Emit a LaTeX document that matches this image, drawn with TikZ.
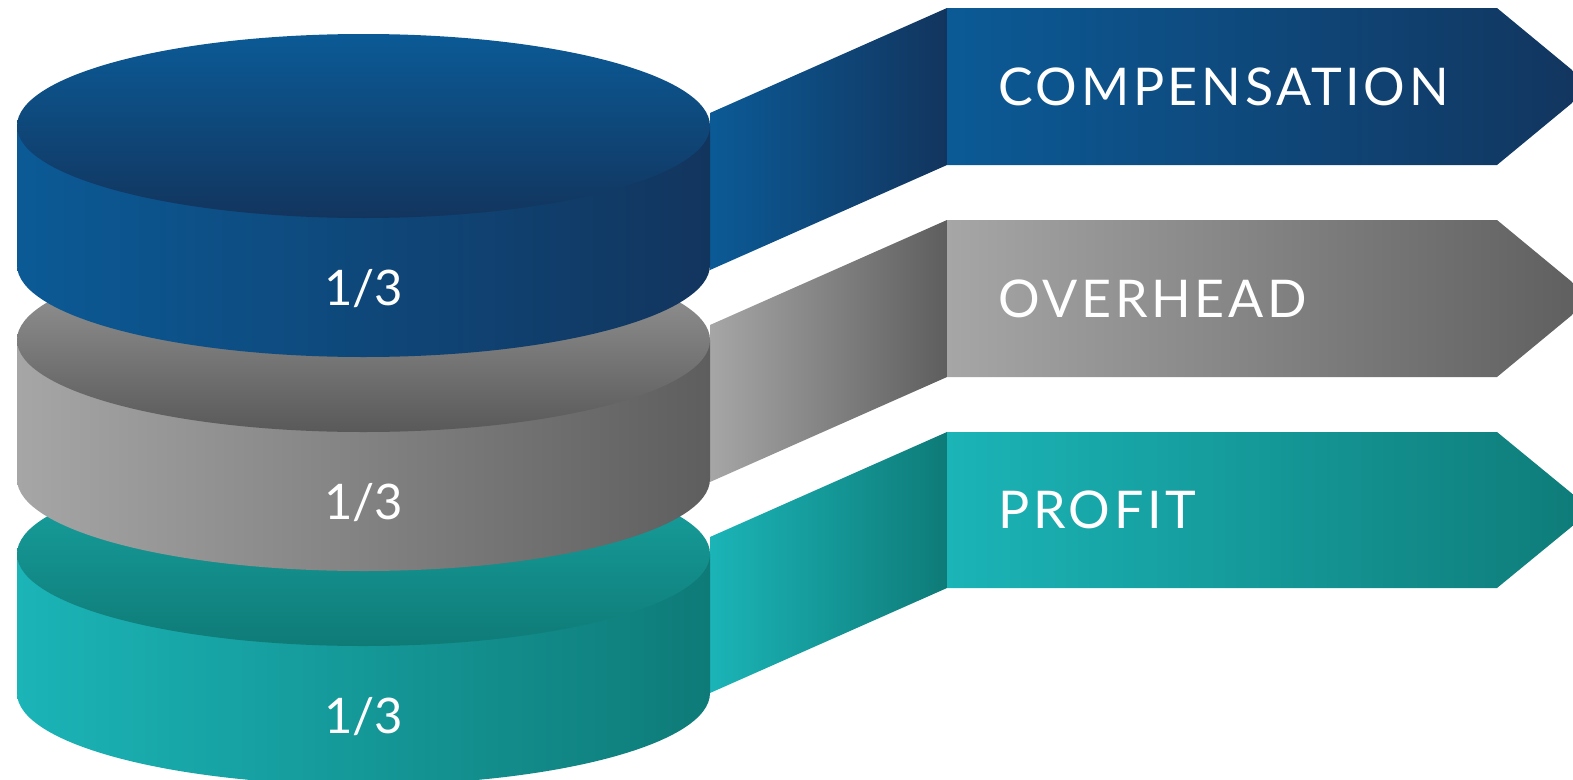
\documentclass[tikz,border=0pt]{standalone}
\usepackage{fontspec}
\setmainfont{Lato}
\newfontfamily\tagfont[LetterSpace=7]{Lato}
\usepackage{xcolor}
\usepackage{tikz}
\definecolor{navylight}{HTML}{0B5A96}
\definecolor{navydark}{HTML}{12355E}
\definecolor{greylight}{HTML}{A6A6A6}
\definecolor{greydark}{HTML}{5E5E5E}
\definecolor{greylid}{HTML}{A0A0A0}
\definecolor{greylidlow}{HTML}{595959}
\definecolor{teallight}{HTML}{1BB4B7}
\definecolor{tealdark}{HTML}{0E7B78}
\definecolor{teallid}{HTML}{18A6A4}
\definecolor{teallidlow}{HTML}{0F7B77}
\tikzset{
  sidefill/.style 2 args={left color=#1, right color=#2},
  lidfill/.style 2 args={top color=#1, bottom color=#2},
  tag/.style={font=\tagfont\fontsize{52}{60}\selectfont, text=white, inner sep=0pt, anchor=base west},
  share/.style={font=\fontsize{49}{56}\selectfont, text=white, inner sep=0pt, anchor=base},
}

\begin{document}
\begin{tikzpicture}[x=1pt, y=-1pt]
\useasboundingbox (0,0) rectangle (1573,779);
\clip (0,0) rectangle (1573,779);

% bottom layer: profit
\path[sidefill={teallight}{tealdark}] (710,537) -- (947,432) -- (947,588) -- (710,693) -- cycle;
\path[sidefill={teallight}{tealdark}] (947,432) -- (1497,432) -- (1592,510) -- (1497,588) -- (947,588) -- cycle;
\path[sidefill={teallight}{tealdark}] (17,554) -- (17,693)
  arc[start angle=180, end angle=360, x radius=346.5pt, y radius=92pt] -- (710,554) -- cycle;
\path[lidfill={teallid}{teallidlow}] (363.5,554) ellipse[x radius=346.5pt, y radius=92pt];
\node[tag] (profit) at (998,528.5) {PROFIT};
\node[share] (sharec) at (363.5,733) {1/3};

% middle layer: overhead
\path[sidefill={greylight}{greydark}] (710,325) -- (947,220) -- (947,377) -- (710,482) -- cycle;
\path[sidefill={greylight}{greydark}] (947,220) -- (1497,220) -- (1592,298.5) -- (1497,377) -- (947,377) -- cycle;
\path[sidefill={greylight}{greydark}] (17,340) -- (17,479)
  arc[start angle=180, end angle=360, x radius=346.5pt, y radius=92pt] -- (710,340) -- cycle;
\path[lidfill={greylid}{greylidlow}] (363.5,340) ellipse[x radius=346.5pt, y radius=92pt];
\node[tag] (overhead) at (998,317) {OVERHEAD};
\node[share] (shareb) at (363.5,519) {1/3};

% top layer: compensation
\path[sidefill={navylight}{navydark}] (710,113) -- (947,8) -- (947,165) -- (710,270) -- cycle;
\path[sidefill={navylight}{navydark}] (947,8) -- (1497,8) -- (1592,86.5) -- (1497,165) -- (947,165) -- cycle;
\path[sidefill={navylight}{navydark}] (17,126) -- (17,265)
  arc[start angle=180, end angle=360, x radius=346.5pt, y radius=92pt] -- (710,126) -- cycle;
\path[lidfill={navylight}{navydark}] (363.5,126) ellipse[x radius=346.5pt, y radius=92pt];
\node[tag] (comp) at (998,105) {COMPENSATION};
\node[share] (sharea) at (363.5,305) {1/3};
\end{tikzpicture}
\end{document}
